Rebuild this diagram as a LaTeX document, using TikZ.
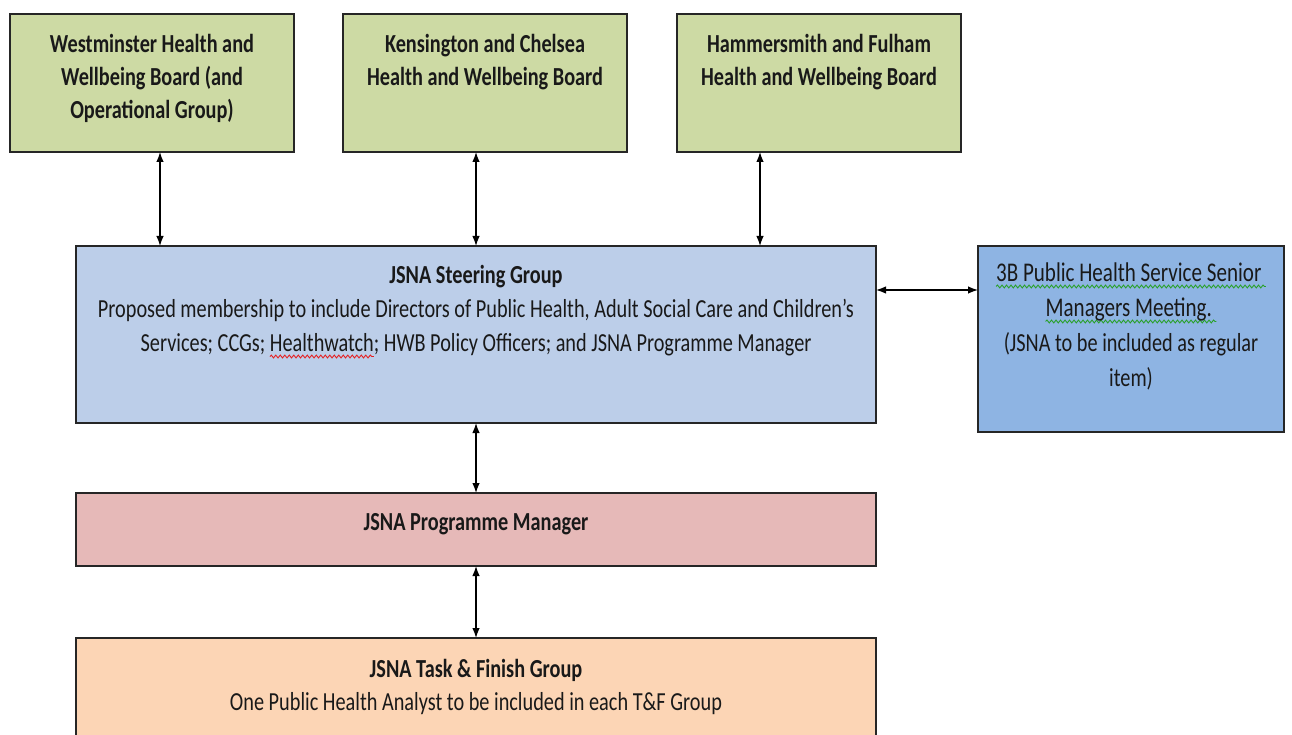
\documentclass[tikz,border=0pt]{standalone}
\usepackage{fontspec}
\setmainfont{Carlito}[FakeStretch=0.78]
\usetikzlibrary{arrows.meta,calc,decorations.pathmorphing}
\newsavebox\wavybox
\newlength\wavylen
\newcommand\wavy[2]{\sbox\wavybox{#2}\setlength\wavylen{\wd\wavybox}%
  \rlap{\tikz[overlay,baseline=0pt,x=1pt,y=1pt]\draw[#1, line width=0.9pt, decorate, decoration={snake,amplitude=1.4pt,segment length=4.5pt}] (0pt,-5.5pt) -- (\wavylen,-5.5pt);}\usebox\wavybox}
\definecolor{boardgreen}{RGB}{205,218,164}
\definecolor{steerblue}{RGB}{188,206,233}
\definecolor{meetblue}{RGB}{142,180,227}
\definecolor{pmpink}{RGB}{230,185,184}
\definecolor{tfpeach}{RGB}{252,213,181}
\definecolor{spellred}{RGB}{230,30,30}
\definecolor{spellgreen}{RGB}{40,160,40}
\tikzset{
  box/.style={draw=black!85, line width=1.6pt, rectangle, inner sep=0pt, outer sep=0pt},
  txt/.style={align=center, inner sep=0pt, outer sep=0pt, text=black!90},
  biarrow/.style={{Latex[length=10pt,width=7.5pt]}-{Latex[length=10pt,width=7.5pt]}, line width=1.3pt}
}
\begin{document}
\begin{tikzpicture}[x=1pt,y=-1pt]
\useasboundingbox (0,0) rectangle (1292,735);
\begin{scope}
\clip (0,0) rectangle (1292,735);
% boxes
\node[box, fill=boardgreen, minimum width=284pt, minimum height=138pt] (W) at (152,83) {};
\node[box, fill=boardgreen, minimum width=284pt, minimum height=138pt] (K) at (485,83) {};
\node[box, fill=boardgreen, minimum width=284pt, minimum height=138pt] (H) at (819,83) {};
\node[box, fill=steerblue, minimum width=800pt, minimum height=177pt] (SG) at (476,334.5) {};
\node[box, fill=meetblue, minimum width=306pt, minimum height=186pt] (B3) at (1131,339) {};
\node[box, fill=pmpink, minimum width=800pt, minimum height=73pt] (PM) at (476,529.5) {};
\node[box, fill=tfpeach, minimum width=800pt, minimum height=132pt] (TF) at (476,704) {};
% texts (anchor=base is the baseline of the last line)
\node[txt, anchor=base, font=\fontsize{26}{33}\selectfont\bfseries] (Wt) at (152,119)
  {Westminster Health and\\Wellbeing Board (and\\Operational Group)};
\node[txt, anchor=base, font=\fontsize{26}{33}\selectfont\bfseries] (Kt) at (485,86)
  {Kensington and Chelsea\\Health and Wellbeing Board};
\node[txt, anchor=base, font=\fontsize{26}{33}\selectfont\bfseries] (Ht) at (819,86)
  {Hammersmith and Fulham\\Health and Wellbeing Board};
\node[txt, anchor=base, font=\fontsize{26}{34}\selectfont] (SGt) at (476,351)
  {\textbf{JSNA Steering Group}\\Proposed membership to include Directors of Public Health, Adult Social Care and Children’s\\Services; CCGs; \wavy{spellred}{Healthwatch}; HWB Policy Officers; and JSNA Programme Manager};
\node[txt, anchor=base, font=\fontsize{26}{35}\selectfont] (B3t) at (1131,386)
  {\wavy{spellgreen}{\fontsize{27}{35}\selectfont 3B Public Health Service Senior\,}\\\wavy{spellgreen}{\fontsize{27}{35}\selectfont Managers Meeting.\,}\\(JSNA to be included as regular\\item)};
\node[txt, anchor=base, font=\fontsize{26}{34}\selectfont\bfseries] (PMt) at (476,530)
  {JSNA Programme Manager};
\node[txt, anchor=base, font=\fontsize{26}{33}\selectfont] (TFt) at (476,710)
  {\textbf{JSNA Task \& Finish Group}\\One Public Health Analyst to be included in each T\&F Group};
% connectors
\draw[biarrow] ([xshift=8pt]W.south) -- ([xshift=8pt]W.south |- SG.north);
\draw[biarrow] ([xshift=-9pt]K.south) -- ([xshift=-9pt]K.south |- SG.north);
\draw[biarrow] ([xshift=-59pt]H.south) -- ([xshift=-59pt]H.south |- SG.north);
\draw[biarrow] ([yshift=44.5pt]SG.east) -- ([yshift=44.5pt]SG.east -| B3.west);
\draw[biarrow] (SG.south) -- (PM.north);
\draw[biarrow] (PM.south) -- (TF.north);
\end{scope}
\end{tikzpicture}
\end{document}
